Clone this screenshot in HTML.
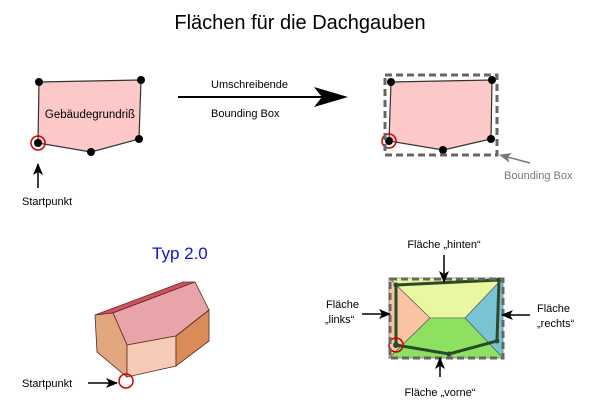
<!DOCTYPE html>
<html><head><meta charset="utf-8"><style>
html,body{margin:0;padding:0;background:#fff;width:600px;height:416px;overflow:hidden}
svg{display:block;font-family:"Liberation Sans",sans-serif}
</style></head><body>
<svg width="600" height="416" viewBox="0 0 600 416" xmlns="http://www.w3.org/2000/svg">
<defs>
<marker id="a" markerWidth="12" markerHeight="10" refX="11" refY="5" orient="auto" markerUnits="userSpaceOnUse"><path d="M0,0 L12,5 L0,10 L3,5 z" fill="#000"/></marker>
<marker id="g" markerWidth="12" markerHeight="10" refX="11" refY="5" orient="auto" markerUnits="userSpaceOnUse"><path d="M0,0 L12,5 L0,10 L3,5 z" fill="#777"/></marker>
</defs>
<text x="300" y="29" font-size="20" text-anchor="middle">Flächen für die Dachgauben</text>

<polygon points="39,82 141,80 139,139 91,152 38,143" fill="#fcc8c8" stroke="#333" stroke-width="1.2"/>
<text x="90" y="118" font-size="11.5" text-anchor="middle">Gebäudegrundriß</text>
<g fill="#000"><circle cx="39" cy="82" r="4"/><circle cx="141" cy="80" r="4"/><circle cx="139" cy="139" r="4"/><circle cx="91" cy="152" r="4"/><circle cx="38" cy="143" r="4"/></g>
<circle cx="38" cy="143" r="7" fill="none" stroke="#c00" stroke-width="1.5"/>
<line x1="38" y1="188" x2="38" y2="164" stroke="#000" stroke-width="1.5" marker-end="url(#a)"/>
<text x="22" y="205" font-size="11">Startpunkt</text>

<line x1="178" y1="97" x2="330" y2="97" stroke="#000" stroke-width="2"/>
<path d="M314,87 L348,97 L314,107 L322,97 z" fill="#000"/>
<text x="211" y="88" font-size="11">Umschreibende</text>
<text x="211" y="117" font-size="11">Bounding Box</text>

<polygon points="391,82 492,80 491,139 443,150 389,141" fill="#fcc8c8" stroke="#333" stroke-width="1.2"/>
<g fill="#000"><circle cx="391" cy="82" r="4"/><circle cx="492" cy="80" r="4"/><circle cx="491" cy="139" r="4"/><circle cx="443" cy="150" r="4"/><circle cx="389" cy="141" r="4"/></g>
<circle cx="389" cy="141" r="7" fill="none" stroke="#c00" stroke-width="1.5"/>
<rect x="385" y="75" width="112" height="80" fill="none" stroke="#666" stroke-width="3" stroke-dasharray="7,4"/>
<line x1="530" y1="163" x2="500" y2="155" stroke="#777" stroke-width="1.5" marker-end="url(#g)"/>
<text x="504" y="179" font-size="11" fill="#777">Bounding Box</text>

<text x="152" y="259" font-size="17" fill="#1010cc">Typ 2.0</text>
<polygon points="95,315 183,282 195,282 113,313" fill="#d05060" stroke="#5a2a20" stroke-width="0.8"/>
<polygon points="113,313 195,282 209,310 176,336 127,345" fill="#e8a4a8" stroke="#5a2a20" stroke-width="0.8"/>
<polygon points="95,315 113,313 127,345 127,377 97,352" fill="#e3a780" stroke="#5a2a20" stroke-width="0.8"/>
<polygon points="127,345 176,336 176,366 127,377" fill="#f5cbb5" stroke="#5a2a20" stroke-width="0.8"/>
<polygon points="176,336 209,310 209,341 176,366" fill="#d98c58" stroke="#5a2a20" stroke-width="0.8"/>
<circle cx="126" cy="381" r="7" fill="none" stroke="#c00" stroke-width="1.5"/>
<text x="22" y="387" font-size="11">Startpunkt</text>
<line x1="88" y1="383" x2="117" y2="383" stroke="#000" stroke-width="1.5" marker-end="url(#a)"/>

<polygon points="389,278 503,278 465,318 430,318" fill="#e8f7a0" stroke="#555" stroke-width="0.6"/>
<polygon points="389,278 430,318 389,358" fill="#f8c4a4" stroke="#555" stroke-width="0.6"/>
<polygon points="503,278 503,358 465,318" fill="#78c4d4" stroke="#555" stroke-width="0.6"/>
<polygon points="430,318 465,318 503,358 389,358" fill="#8de060" stroke="#555" stroke-width="0.6"/>
<polygon points="396,285 499,280 497,341 449,354 396,345" fill="none" stroke="#2a4a2a" stroke-width="3"/>
<g fill="#2a4a2a"><circle cx="396" cy="285" r="2.5"/><circle cx="499" cy="280" r="2.5"/><circle cx="497" cy="341" r="2.5"/><circle cx="449" cy="354" r="2.5"/><circle cx="396" cy="345" r="3"/></g>
<circle cx="396" cy="345" r="7" fill="none" stroke="#c00" stroke-width="1.5"/>
<rect x="390" y="279" width="113" height="79" fill="none" stroke="#666" stroke-width="3" stroke-dasharray="7,4"/>
<text x="444" y="248" font-size="11" text-anchor="middle">Fläche „hinten“</text>
<line x1="444" y1="255" x2="444" y2="282" stroke="#000" stroke-width="1.5" marker-end="url(#a)"/>
<text x="326" y="308" font-size="11">Fläche</text>
<text x="325" y="323" font-size="11">„links“</text>
<line x1="362" y1="314" x2="390" y2="314" stroke="#000" stroke-width="1.5" marker-end="url(#a)"/>
<text x="537" y="312" font-size="11">Fläche</text>
<text x="537" y="327" font-size="11">„rechts“</text>
<line x1="530" y1="315" x2="502" y2="315" stroke="#000" stroke-width="1.5" marker-end="url(#a)"/>
<text x="440" y="396" font-size="11" text-anchor="middle">Fläche „vorne“</text>
<line x1="440" y1="377" x2="440" y2="358" stroke="#000" stroke-width="1.5" marker-end="url(#a)"/>
</svg>
</body></html>
